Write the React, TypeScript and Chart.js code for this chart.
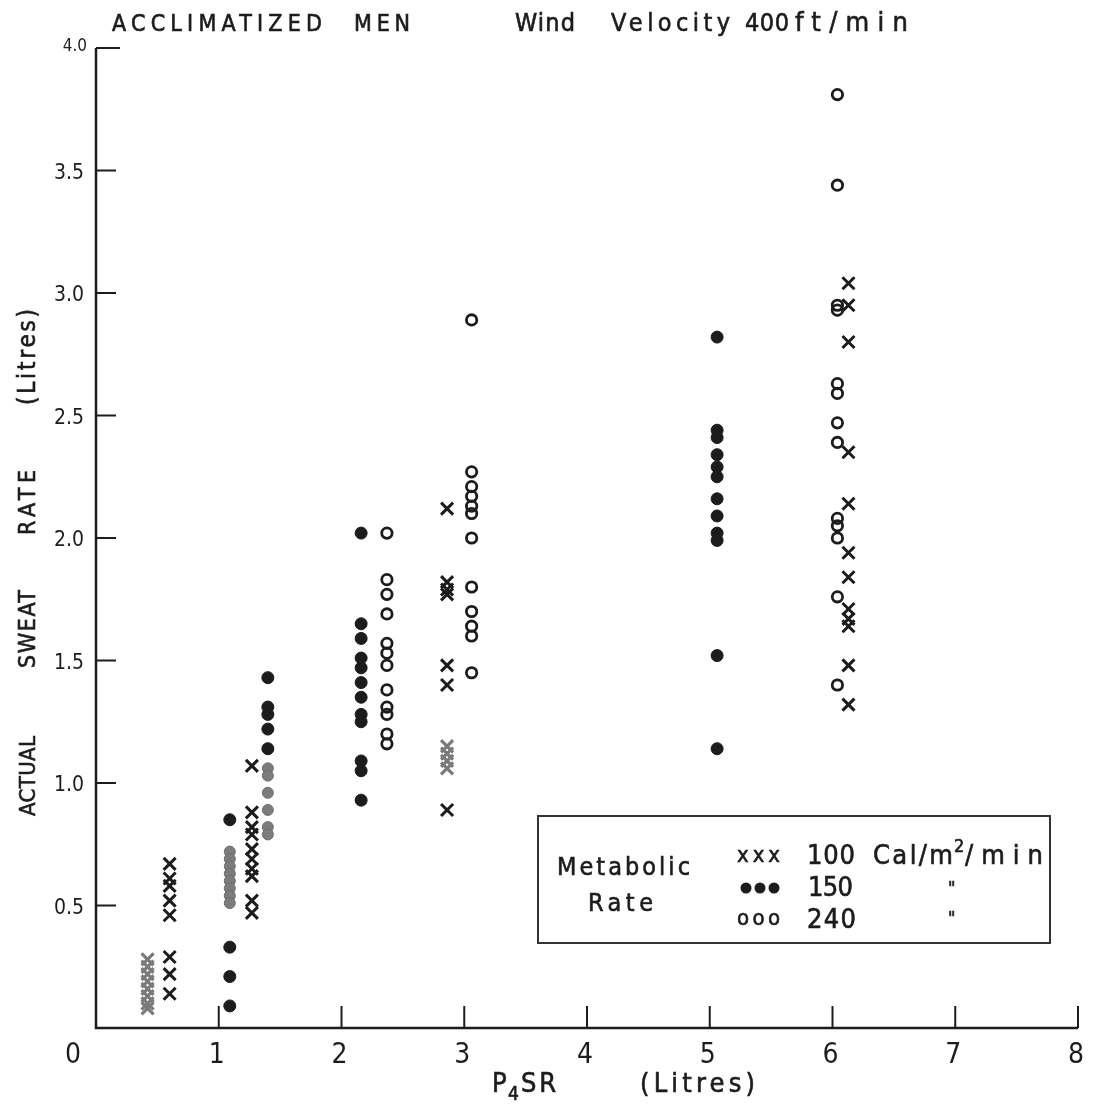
import { useEffect, useRef } from "react";
import { Chart, registerables } from "chart.js";

Chart.register(...registerables);

// ---- data: [P4SR (litres), actual sweat rate (litres)] ----
const rate100Black: number[][] = [
  [0.6, 0.67], [0.6, 0.61], [0.6, 0.58], [0.6, 0.52], [0.6, 0.46],
  [0.6, 0.29], [0.6, 0.22], [0.6, 0.14],
  [1.27, 1.07], [1.27, 0.88], [1.27, 0.82], [1.27, 0.79], [1.27, 0.73], [1.27, 0.69],
  [1.27, 0.65], [1.27, 0.62], [1.27, 0.52], [1.27, 0.47],
  [2.86, 2.12], [2.86, 1.82], [2.86, 1.79], [2.86, 1.77], [2.86, 1.48], [2.86, 1.4], [2.86, 0.89],
  [6.13, 3.04], [6.13, 2.95], [6.13, 2.8], [6.13, 2.35], [6.13, 2.14], [6.13, 1.94], [6.13, 1.84],
  [6.13, 1.71], [6.13, 1.67], [6.13, 1.64], [6.13, 1.48], [6.13, 1.32],
];
const rate100Gray: number[][] = [
  [0.42, 0.28], [0.42, 0.25], [0.42, 0.22], [0.42, 0.19], [0.42, 0.16], [0.42, 0.13], [0.42, 0.1], [0.42, 0.08],
  [2.86, 1.15], [2.86, 1.12], [2.86, 1.09], [2.86, 1.06],
];
const rate150Black: number[][] = [
  [1.09, 0.85], [1.09, 0.33], [1.09, 0.21], [1.09, 0.09],
  [1.4, 1.43], [1.4, 1.31], [1.4, 1.28], [1.4, 1.22], [1.4, 1.14],
  [2.16, 2.02], [2.16, 1.65], [2.16, 1.59], [2.16, 1.51], [2.16, 1.47], [2.16, 1.41], [2.16, 1.35],
  [2.16, 1.28], [2.16, 1.25], [2.16, 1.09], [2.16, 1.05], [2.16, 0.93],
  [5.06, 2.82], [5.06, 2.44], [5.06, 2.41], [5.06, 2.34], [5.06, 2.29], [5.06, 2.25], [5.06, 2.16],
  [5.06, 2.09], [5.06, 2.02], [5.06, 1.99], [5.06, 1.52], [5.06, 1.14],
];
const rate150Gray: number[][] = [
  [1.09, 0.72], [1.09, 0.69], [1.09, 0.66], [1.09, 0.63], [1.09, 0.6], [1.09, 0.57], [1.09, 0.54], [1.09, 0.51],
  [1.4, 1.06], [1.4, 1.03], [1.4, 0.96], [1.4, 0.89], [1.4, 0.82], [1.4, 0.79],
];
const rate240: number[][] = [
  [2.37, 2.02], [2.37, 1.83], [2.37, 1.77], [2.37, 1.69], [2.37, 1.57], [2.37, 1.53], [2.37, 1.48],
  [2.37, 1.38], [2.37, 1.31], [2.37, 1.28], [2.37, 1.2], [2.37, 1.16],
  [3.06, 2.89], [3.06, 2.27], [3.06, 2.21], [3.06, 2.17], [3.06, 2.13], [3.06, 2.1], [3.06, 2.0],
  [3.06, 1.8], [3.06, 1.7], [3.06, 1.64], [3.06, 1.6], [3.06, 1.45],
  [6.04, 3.81], [6.04, 3.44], [6.04, 2.95], [6.04, 2.93], [6.04, 2.63], [6.04, 2.59], [6.04, 2.47],
  [6.04, 2.39], [6.04, 2.08], [6.04, 2.05], [6.04, 2.0], [6.04, 1.76], [6.04, 1.4],
];

const xTickValues = [0, 1, 2, 3, 4, 5, 6, 7, 8];
const xTickLabels = ["0", "1", "2", "3", "4", "5", "6", "7", "8"];
const yTickValues = [0.5, 1.0, 1.5, 2.0, 2.5, 3.0, 3.5, 4.0];
const yTickLabels = ["0.5", "1.0", "1.5", "2.0", "2.5", "3.0", "3.5", "4.0"];

const FONT = "'DejaVu Sans Condensed', 'DejaVu Sans', sans-serif";
const INK = "#1c1c1c";

function fitText(ctx: CanvasRenderingContext2D, text: string, left: number, right: number, baseline: number, size: number) {
  ctx.font = `${size}px ${FONT}`;
  (ctx as any).letterSpacing = "0px";
  const w = ctx.measureText(text).width;
  const n = Array.from(text).length;
  const ls = n > 1 ? (right - left - w) / (n - 1) : 0;
  (ctx as any).letterSpacing = `${ls}px`;
  ctx.textAlign = "left";
  ctx.textBaseline = "alphabetic";
  ctx.fillText(text, left, baseline);
  ctx.lineWidth = 0.6;
  ctx.strokeStyle = INK;
  ctx.strokeText(text, left, baseline);
  (ctx as any).letterSpacing = "0px";
}

const decor = {
  id: "decor",
  beforeDraw(chart: any) {
    const ctx = chart.ctx as CanvasRenderingContext2D;
    ctx.save();
    ctx.fillStyle = "#ffffff";
    ctx.fillRect(0, 0, chart.width, chart.height);
    ctx.restore();
  },
  afterDraw(chart: any) {
    const ctx = chart.ctx as CanvasRenderingContext2D;
    const xs = chart.scales.x;
    const ys = chart.scales.y;
    const x0 = xs.getPixelForValue(0);
    const x8 = xs.getPixelForValue(8);
    const y0 = ys.getPixelForValue(0);
    const y4 = ys.getPixelForValue(4);
    ctx.save();
    ctx.strokeStyle = INK;
    ctx.fillStyle = INK;
    ctx.lineCap = "butt";
    // axes
    ctx.lineWidth = 2.5;
    ctx.beginPath();
    ctx.moveTo(x0, y4);
    ctx.lineTo(x0, y0);
    ctx.lineTo(x8, y0);
    ctx.stroke();
    // y ticks (inward)
    ctx.lineWidth = 2;
    yTickValues.forEach((v, i) => {
      const py = ys.getPixelForValue(v);
      ctx.beginPath();
      ctx.moveTo(x0, py);
      ctx.lineTo(x0 + (i === yTickValues.length - 1 ? 24 : 20), py);
      ctx.stroke();
    });
    // x ticks (inward)
    xTickValues.forEach((v) => {
      if (v === 0) return;
      const px = xs.getPixelForValue(v);
      ctx.beginPath();
      ctx.moveTo(px, y0);
      ctx.lineTo(px, y0 - 22);
      ctx.stroke();
    });
    // y tick labels
    ctx.textBaseline = "alphabetic";
    ctx.textAlign = "right";
    yTickValues.forEach((v, i) => {
      const py = ys.getPixelForValue(v);
      const top = i === yTickValues.length - 1;
      ctx.font = `${top ? 17 : 21}px ${FONT}`;
      ctx.fillText(yTickLabels[i], top ? 87 : 84, py + (top ? 3 : 8));
    });
    // x tick labels
    ctx.textAlign = "center";
    ctx.font = `28px ${FONT}`;
    xTickValues.forEach((v, i) => {
      const px = v === 0 ? x0 - 23 : xs.getPixelForValue(v) - 2;
      ctx.fillText(xTickLabels[i], px, y0 + 35);
    });
    // title
    fitText(ctx, "ACCLIMATIZED", 112, 322, 31, 23);
    fitText(ctx, "MEN", 354, 410, 31, 23);
    fitText(ctx, "Wind", 515, 575, 31, 25);
    fitText(ctx, "Velocity", 611, 730, 31, 25);
    fitText(ctx, "400", 745, 789, 31, 25);
    fitText(ctx, "ft/min", 795, 908, 31, 27);
    // x axis title
    fitText(ctx, "P", 492, 506, 1092, 27);
    fitText(ctx, "4", 508, 519, 1100, 19);
    fitText(ctx, "SR", 521, 556, 1092, 27);
    fitText(ctx, "(Litres)", 640, 755, 1092, 27);
    // y axis title (rotated)
    ctx.save();
    ctx.translate(35, 0);
    ctx.rotate(-Math.PI / 2);
    fitText(ctx, "ACTUAL", -816, -736, 0, 22);
    fitText(ctx, "SWEAT", -668, -590, 0, 23);
    fitText(ctx, "RATE", -535, -470, 0, 23);
    fitText(ctx, "(Litres)", -405, -309, 0, 24);
    ctx.restore();
    // legend box
    ctx.lineWidth = 2;
    ctx.strokeStyle = "#333";
    ctx.strokeRect(538, 816, 512, 127);
    ctx.fillStyle = INK;
    fitText(ctx, "Metabolic", 557, 690, 875, 25);
    fitText(ctx, "Rate", 588, 653, 911, 25);
    fitText(ctx, "xxx", 737, 780, 862, 22);
    fitText(ctx, "100", 807, 855, 864, 27);
    fitText(ctx, "Cal/m", 873, 953, 864, 27);
    fitText(ctx, "2", 954, 964, 852, 18);
    fitText(ctx, "/min", 965, 1043, 864, 27);
    [746, 760, 774].forEach((cx) => {
      ctx.beginPath();
      ctx.arc(cx, 888, 5.5, 0, Math.PI * 2);
      ctx.fill();
    });
    fitText(ctx, "150", 808, 853, 896, 27);
    fitText(ctx, "\"", 948, 956, 894, 18);
    fitText(ctx, "ooo", 737, 780, 925, 22);
    fitText(ctx, "240", 807, 856, 928, 27);
    fitText(ctx, "\"", 948, 956, 924, 18);
    ctx.restore();
  },
};

const toPts = (arr: number[][]) => arr.map(([x, y]) => ({ x, y }));

export default function App() {
  const ref = useRef<HTMLCanvasElement>(null);
  useEffect(() => {
    const canvas = ref.current;
    if (!canvas) return;
    const chart = new Chart(canvas, {
      type: "scatter",
      data: {
        datasets: [
          {
            label: "100 (faint)",
            data: toPts(rate100Gray),
            pointStyle: "crossRot",
            pointRadius: 8.5,
            pointBorderWidth: 3.2,
            pointBorderColor: "#7a7a7a",
            pointBackgroundColor: "#7a7a7a",
          },
          {
            label: "150 (faint)",
            data: toPts(rate150Gray),
            pointStyle: "circle",
            pointRadius: 5.5,
            pointBorderWidth: 1,
            pointBorderColor: "#6e6e6e",
            pointBackgroundColor: "#7c7c7c",
          },
          {
            label: "100 Cal/m²/min",
            data: toPts(rate100Black),
            pointStyle: "crossRot",
            pointRadius: 8.5,
            pointBorderWidth: 3,
            pointBorderColor: INK,
            pointBackgroundColor: INK,
          },
          {
            label: "150 Cal/m²/min",
            data: toPts(rate150Black),
            pointStyle: "circle",
            pointRadius: 6,
            pointBorderWidth: 1,
            pointBorderColor: INK,
            pointBackgroundColor: INK,
          },
          {
            label: "240 Cal/m²/min",
            data: toPts(rate240),
            pointStyle: "circle",
            pointRadius: 5.2,
            pointBorderWidth: 2.8,
            pointBorderColor: INK,
            pointBackgroundColor: "rgba(0,0,0,0)",
          },
        ],
      } as any,
      options: {
        animation: false,
        responsive: false,
        devicePixelRatio: 1,
        events: [],
        layout: { padding: { left: 96, right: 20, top: 48, bottom: 78 } },
        scales: {
          x: { type: "linear", min: 0, max: 8, display: false },
          y: { type: "linear", min: 0, max: 4, display: false },
        },
        plugins: { legend: { display: false }, tooltip: { enabled: false } },
        elements: { point: { hoverRadius: 0 } },
        clip: false as any,
      } as any,
      plugins: [decor],
    });
    return () => chart.destroy();
  }, []);
  return (
    <div style={{ position: "fixed", left: 0, top: 0, width: 1098, height: 1106, background: "#fff" }}>
      <canvas ref={ref} width={1098} height={1106} style={{ display: "block" }} />
    </div>
  );
}
